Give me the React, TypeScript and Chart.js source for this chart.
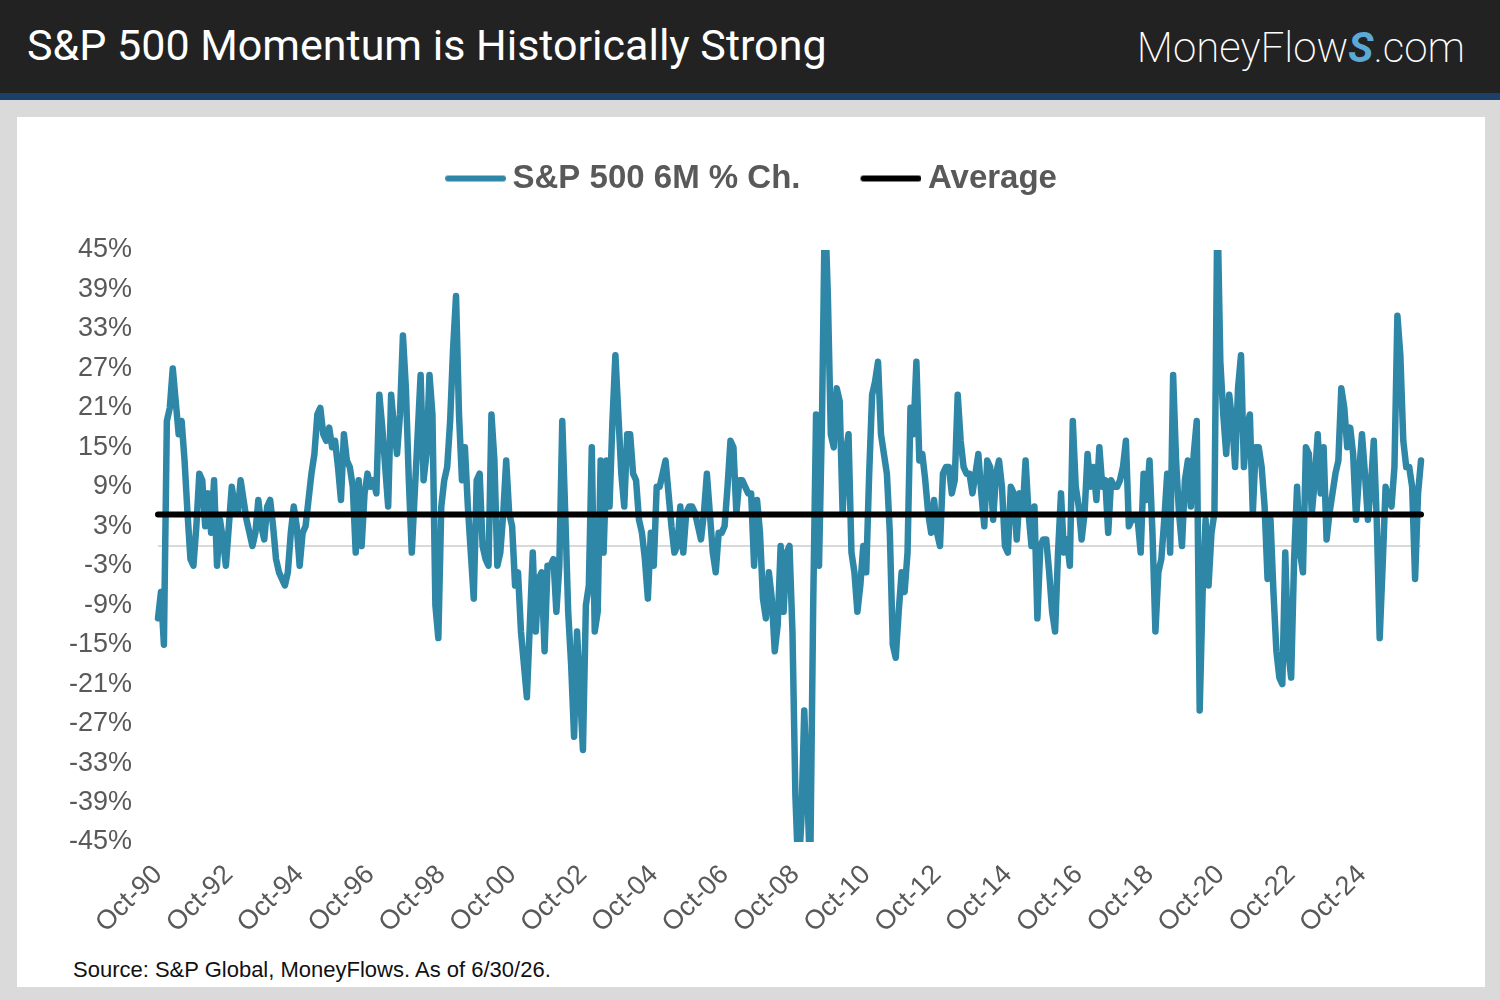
import React, { useEffect, useRef } from 'react';
import { Chart, registerables } from 'chart.js';

Chart.register(...registerables);

// ---- Chart text ----
const TITLE = 'S&P 500 Momentum is Historically Strong';
const SOURCE_NOTE = 'Source: S&P Global, MoneyFlows. As of 6/30/26.';
const SERIES_LABEL = 'S&P 500 6M % Ch.';
const AVERAGE_LABEL = 'Average';

// ---- Data: S&P 500 6-month % change, one value per month, Oct-1990 .. Jun-2026 ----
const CH_1990 = [-11, -7, -15]; // Oct-Dec
const CH_1991 = [19, 21, 27, 22, 17, 19, 13, 5, -2, -3, 3, 11];
const CH_1992 = [10, 3, 8, 2, 10, -3, 4, 1, -3, 3, 9, 6];
const CH_1993 = [5, 10, 7, 4, 2, 0, 2, 7, 3, 1, 6, 7];
const CH_1994 = [3, -2, -4, -5, -6, -4, 2, 6, 3, -3, 2, 3];
const CH_1995 = [7, 11, 14, 20, 21, 17, 16, 18, 15, 16, 12, 7];
const CH_1996 = [17, 13, 12, 9, -1, 10, 0, 8, 11, 9, 10, 8];
const CH_1997 = [23, 18, 12, 6, 23, 18, 14, 20, 32, 24, 10, -1];
const CH_1998 = [8, 17, 26, 10, 14, 26, 20, -9, -14, 6, 10, 12];
const CH_1999 = [19, 30, 38, 20, 10, 15, 6, -1, -8, 10, 11, 0];
const CH_2000 = [-2, -3, 20, 13, -3, -1, 5, 13, 5, 3, -6, -4];
const CH_2001 = [-13, -18, -23, -12, -1, -13, -5, -4, -16, -3, -3, -2];
const CH_2002 = [-10, -3, 19, 5, -10, -18, -29, -13, -22, -31, -9, -6];
const CH_2003 = [15, -13, -10, 13, -1, 13, 6, 19, 29, 20, 11, 6];
const CH_2004 = [17, 17, 11, 10, 4, 2, -2, -8, 2, -3, 9, 9];
const CH_2005 = [11, 13, 8, 3, -1, 0, 6, -1, 5, 6, 6, 5];
const CH_2006 = [3, 1, 5, 11, 5, -1, -4, 2, 2, 3, 9, 16];
const CH_2007 = [15, 5, 10, 10, 9, 8, 8, -3, 7, 2, -8, -11];
const CH_2008 = [-4, -8, -16, -12, 0, -10, -1, 0, -13, -38, -50, -42];
const CH_2009 = [-25, -37, -50, -10, 20, -3, 19, 52, 38, 17, 15, 24];
const CH_2010 = [22, 5, 14, 17, -1, -4, -10, -6, 0, -4, 11, 23];
const CH_2011 = [25, 28, 17, 14, 11, 2, -15, -17, -10, -4, -7, -1];
const CH_2012 = [21, 17, 28, 13, 14, 10, 5, 2, 7, 2, 0, 11];
const CH_2013 = [12, 12, 8, 10, 23, 16, 12, 11, 11, 8, 11, 14];
const CH_2014 = [8, 3, 13, 12, 4, 11, 13, 9, 0, -1, 9, 8];
const CH_2015 = [1, 8, 5, 13, 5, 0, 6, -11, 0, 1, 1, -4];
const CH_2016 = [-10, -13, -1, 8, -1, 1, -3, 19, 9, 6, 1, 5];
const CH_2017 = [14, 9, 12, 7, 15, 9, 10, 2, 10, 9, 9, 10];
const CH_2018 = [12, 16, 3, 4, 4, 4, -1, 11, 7, 13, 2, -13];
const CH_2019 = [-4, -2, 4, 11, -1, 26, 13, 5, 0, 10, 13, 6];
const CH_2020 = [14, 19, -25, -7, 4, -6, 2, 5, 52, 28, 20, 14];
const CH_2021 = [23, 19, 12, 24, 29, 12, 18, 20, 5, 15, 15, 12];
const CH_2022 = [6, -5, 4, -7, -16, -20, -21, -1, -16, -20, -2, 9];
const CH_2023 = [-1, -4, 15, 14, 5, 10, 17, 8, 15, 1, 5, 8];
const CH_2024 = [11, 13, 24, 21, 15, 18, 14, 4, 11, 17, 11, 4];
const CH_2025 = [9, 16, 4, -14, -3, 9, 7, 6, 12, 35, 29, 16];
const CH_2026 = [12, 12, 9, -5, 8, 13]; // Jan-Jun

const SP500_6M_CHANGE = [
  ...CH_1990, ...CH_1991, ...CH_1992, ...CH_1993, ...CH_1994, ...CH_1995,
  ...CH_1996, ...CH_1997, ...CH_1998, ...CH_1999, ...CH_2000, ...CH_2001,
  ...CH_2002, ...CH_2003, ...CH_2004, ...CH_2005, ...CH_2006, ...CH_2007,
  ...CH_2008, ...CH_2009, ...CH_2010, ...CH_2011, ...CH_2012, ...CH_2013,
  ...CH_2014, ...CH_2015, ...CH_2016, ...CH_2017, ...CH_2018, ...CH_2019,
  ...CH_2020, ...CH_2021, ...CH_2022, ...CH_2023, ...CH_2024, ...CH_2025,
  ...CH_2026,
];

const AVERAGE_VALUE = 4.8;

// x tick labels, every 24 months starting at the first point (Oct-90)
const X_TICK_LABELS = [
  'Oct-90', 'Oct-92', 'Oct-94', 'Oct-96', 'Oct-98', 'Oct-00', 'Oct-02', 'Oct-04', 'Oct-06',
  'Oct-08', 'Oct-10', 'Oct-12', 'Oct-14', 'Oct-16', 'Oct-18', 'Oct-20', 'Oct-22', 'Oct-24',
];
const X_TICK_STEP_MONTHS = 24;
const Y_MIN = -45;
const Y_MAX = 45;
const Y_STEP = 6;

const BLUE = '#2e87a6';
const AXIS_TEXT = '#595959';
const FONT = '"Liberation Sans", Arial, Helvetica, sans-serif';

// legend swatch: a rounded line drawn into a small canvas, line sits at the right of the image
function legendLine(color: string): HTMLCanvasElement {
  const c = document.createElement('canvas');
  c.width = 71;
  c.height = 8;
  const g = c.getContext('2d');
  if (g) {
    g.strokeStyle = color;
    g.lineWidth = 6;
    g.lineCap = 'round';
    g.beginPath();
    g.moveTo(13, 4);
    g.lineTo(68, 4);
    g.stroke();
  }
  return c;
}

export default function App() {
  const canvasRef = useRef<HTMLCanvasElement | null>(null);

  useEffect(() => {
    if (!canvasRef.current) return;
    const n = SP500_6M_CHANGE.length;
    const series = SP500_6M_CHANGE.map((v, i) => ({ x: i, y: v }));
    const avg = SP500_6M_CHANGE.map((_, i) => ({ x: i, y: AVERAGE_VALUE }));
    const zero = [{ x: 0, y: 0 }, { x: n - 1, y: 0 }];
    const clip = { left: 6, right: 6, top: 0, bottom: 0 };

    const chart = new Chart(canvasRef.current, {
      type: 'line',
      data: {
        datasets: [
          {
            label: SERIES_LABEL,
            data: series,
            borderColor: BLUE,
            backgroundColor: BLUE,
            borderWidth: 6.5,
            pointRadius: 0,
            pointStyle: legendLine(BLUE),
            tension: 0,
            borderJoinStyle: 'round',
            borderCapStyle: 'round',
            order: 1,
            clip,
            xAxisID: 'x',
            yAxisID: 'y',
          },
          {
            label: AVERAGE_LABEL,
            data: avg,
            borderColor: '#000000',
            backgroundColor: '#000000',
            borderWidth: 6,
            pointRadius: 0,
            pointStyle: legendLine('#000000'),
            borderCapStyle: 'round',
            order: 0,
            clip,
            xAxisID: 'x',
            yAxisID: 'y',
          },
          {
            label: 'zero',
            data: zero,
            borderColor: '#d9d9d9',
            borderWidth: 2,
            pointRadius: 0,
            order: 2,
            xAxisID: 'x',
            yAxisID: 'y',
          },
        ],
      },
      options: {
        responsive: false,
        animation: false,
        maintainAspectRatio: false,
        layout: { padding: { left: 0, right: 0, top: 0, bottom: 0 } },
        plugins: {
          tooltip: { enabled: false },
          legend: {
            display: true,
            position: 'top',
            align: 'center',
            labels: {
              usePointStyle: true,
              pointStyleWidth: 51,
              padding: 60,
              color: AXIS_TEXT,
              font: { family: FONT, size: 33, weight: 'bold' },
              filter: (item: any) => item.datasetIndex !== 2,
              sort: (a: any, b: any) => a.datasetIndex - b.datasetIndex,
            },
          },
        },
        scales: {
          x: {
            type: 'linear',
            position: 'bottom',
            min: 0,
            max: n - 1,
            grid: { display: false, drawTicks: false },
            border: { display: false },
            afterBuildTicks: (scale: any) => {
              scale.ticks = X_TICK_LABELS.map((_, i) => ({ value: i * X_TICK_STEP_MONTHS }));
            },
            afterFit: (scale: any) => {
              scale.height = 100;
            },
            ticks: {
              autoSkip: false,
              minRotation: 45,
              maxRotation: 45,
              padding: 17,
              labelOffset: 0,
              color: AXIS_TEXT,
              font: { family: FONT, size: 27 },
              callback: (value: any) => X_TICK_LABELS[Math.round(Number(value) / X_TICK_STEP_MONTHS)] ?? '',
            },
          },
          spacer: {
            type: 'linear',
            position: 'top',
            display: true,
            grid: { display: false, drawTicks: false },
            border: { display: false },
            ticks: { display: false },
            afterFit: (scale: any) => {
              scale.height = 45;
            },
          },
          y: {
            type: 'linear',
            position: 'left',
            min: Y_MIN,
            max: Y_MAX,
            grid: { display: false, drawTicks: false },
            border: { display: false },
            afterFit: (scale: any) => {
              scale.width = 141;
            },
            ticks: {
              stepSize: Y_STEP,
              padding: 26,
              color: AXIS_TEXT,
              font: { family: FONT, size: 27 },
              callback: (value: any) => `${value}%`,
            },
          },
          spacerRight: {
            type: 'linear',
            position: 'right',
            display: true,
            grid: { display: false, drawTicks: false },
            border: { display: false },
            ticks: { display: false },
            afterFit: (scale: any) => {
              scale.width = 64;
            },
          },
        },
      } as any,
    });
    return () => chart.destroy();
  }, []);

  return (
    <div
      style={{
        position: 'fixed',
        left: 0,
        top: 0,
        width: 1500,
        height: 1000,
        background: '#dadada',
        overflow: 'hidden',
      }}
    >
      <div
        style={{
          position: 'absolute',
          left: 0,
          top: 0,
          width: 1500,
          height: 93,
          background: '#222222',
        }}
      >
        <div
          style={{
            position: 'absolute',
            left: 27,
            top: 0,
            height: 90,
            display: 'flex',
            alignItems: 'center',
            color: '#ffffff',
            fontFamily: 'Roboto, "Open Sans", sans-serif',
            fontSize: 43,
            whiteSpace: 'nowrap',
          }}
        >
          {TITLE}
        </div>
        <div
          style={{
            position: 'absolute',
            right: 35,
            top: 0,
            height: 94,
            display: 'flex',
            alignItems: 'center',
            color: '#ffffff',
            fontFamily: 'Roboto, "Open Sans", sans-serif',
            fontWeight: 200,
            fontSize: 42,
            whiteSpace: 'nowrap',
          }}
        >
          MoneyFlow
          <span style={{ color: '#5aa9d6', fontStyle: 'italic', fontWeight: 700 }}>S</span>
          .com
        </div>
      </div>
      <div
        style={{
          position: 'absolute',
          left: 0,
          top: 93,
          width: 1500,
          height: 7,
          background: '#1b4168',
        }}
      />
      <div
        style={{
          position: 'absolute',
          left: 17,
          top: 117,
          width: 1468,
          height: 870,
          background: '#ffffff',
        }}
      />
      <div style={{ position: 'absolute', left: 17, top: 102, width: 1468, height: 840 }}>
        <canvas ref={canvasRef} width={1468} height={840} style={{ width: 1468, height: 840 }} />
      </div>
      <div
        style={{
          position: 'absolute',
          left: 73,
          top: 957,
          fontFamily: FONT,
          fontSize: 22,
          color: '#111111',
          whiteSpace: 'nowrap',
        }}
      >
        {SOURCE_NOTE}
      </div>
    </div>
  );
}
